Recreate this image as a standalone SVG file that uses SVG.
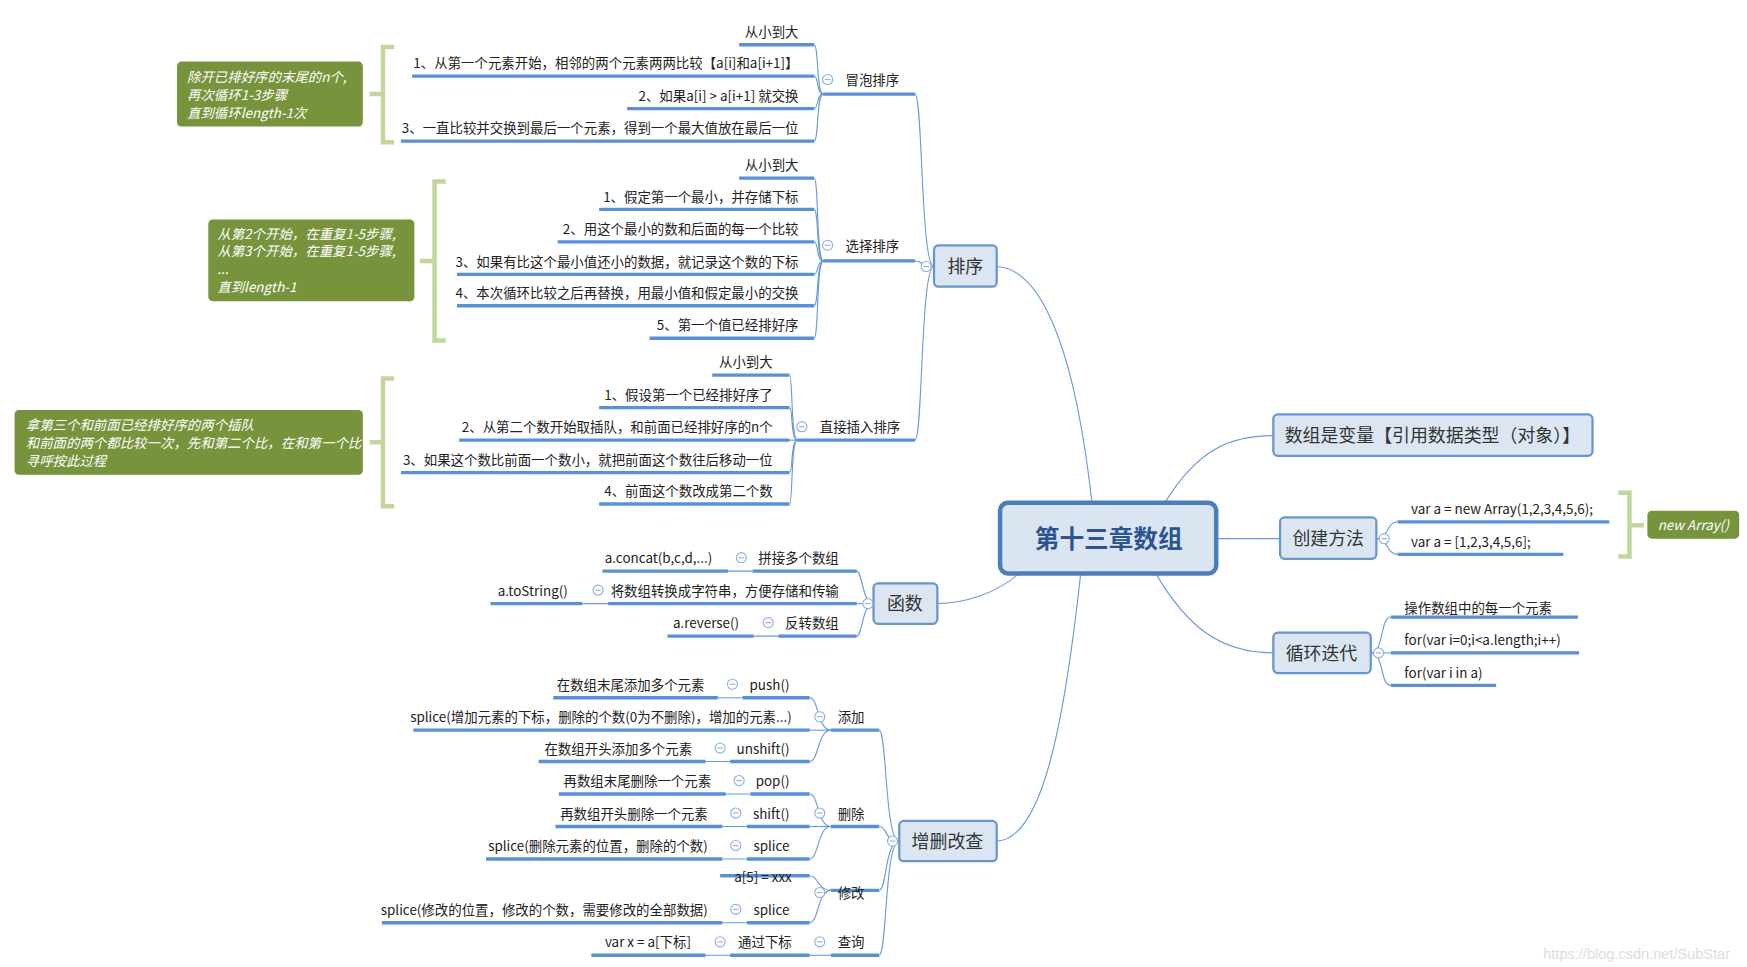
<svg xmlns="http://www.w3.org/2000/svg" width="1747" height="967" viewBox="0 0 1747 967">
<style>
text{font-family:"Microsoft YaHei","Noto Sans CJK SC","Liberation Sans",sans-serif;fill:#222;font-size:12px}
.r{text-anchor:end}
.c{text-anchor:middle}
.ul{stroke:#5b8fd6;stroke-width:3;fill:none}
.cn{stroke:#6a9ad8;stroke-width:1;fill:none}
.nd{fill:#dce6f2;stroke:#6a94cc;stroke-width:2}
.nt{font-size:16px;fill:#333;text-anchor:middle}
.gb{fill:#77933c}
.gt{fill:#fff;font-style:italic;font-size:12px}
.br{stroke:#c3d69b;stroke-width:4;fill:none}
.cc{fill:#fff;stroke:#8fb0dc;stroke-width:1}
</style>
<defs>
<g id="col"><circle class="cc" r="4.5"/><line x1="-2.5" x2="2.5" y1="0" y2="0" stroke="#8fb0dc"/></g>
</defs>
<rect width="1747" height="967" fill="#fff"/>
<g transform="scale(1.1199)">
<g id="connectors">
<path class="cn" d="M975 449 C962 330 935 240 890 238"/>
<path class="cn" d="M910 512 C890 530 860 539 837 539"/>
<path class="cn" d="M965 512 C950 650 930 750 890 751"/>
<path class="cn" d="M1040 449 C1070 400 1100 389 1137 389"/>
<path class="cn" d="M1086 481 L1143 481"/>
<path class="cn" d="M1032 512 C1060 560 1090 583 1137 583"/>
<!-- sort fan -->
<path class="cn" d="M834 238 C822 238 824 84 817 84"/>
<path class="cn" d="M834 238 C822 238 824 233 817 233"/>
<path class="cn" d="M834 238 C822 238 824 393 817 393"/>
<!-- bubble -->
<path class="cn" d="M735 84 C729 84 731 40 727 40"/>
<path class="cn" d="M735 84 C729 84 731 68 727 68"/>
<path class="cn" d="M735 84 C729 84 731 97 727 97"/>
<path class="cn" d="M735 84 C729 84 731 126 727 126"/>
<!-- select -->
<path class="cn" d="M735 233 C729 233 731 159 727 159"/>
<path class="cn" d="M735 233 C729 233 731 187 727 187"/>
<path class="cn" d="M735 233 C729 233 731 216 727 216"/>
<path class="cn" d="M735 233 C729 233 731 245 727 245"/>
<path class="cn" d="M735 233 C729 233 731 273 727 273"/>
<path class="cn" d="M735 233 C729 233 731 302 727 302"/>
<!-- insert -->
<path class="cn" d="M712 393 C706 393 708 335 705 335"/>
<path class="cn" d="M712 393 C706 393 708 364 705 364"/>
<path class="cn" d="M712 393 C706 393 708 393 705 393"/>
<path class="cn" d="M712 393 C706 393 708 422 705 422"/>
<path class="cn" d="M712 393 C706 393 708 450 705 450"/>
<!-- functions -->
<path class="cn" d="M780 539 C770 539 770 510 765 510"/>
<path class="cn" d="M780 539 L765 539"/>
<path class="cn" d="M780 539 C770 539 770 568 765 568"/>
<path class="cn" d="M650 510 L672 510 M520 539 L543 539 M673 568 L695 568"/>
<!-- crud -->
<path class="cn" d="M803 751 C790 751 792 652 785 652"/>
<path class="cn" d="M803 751 C790 751 792 738 785 738"/>
<path class="cn" d="M803 751 C790 751 792 795 785 795"/>
<path class="cn" d="M803 751 C790 751 792 853 785 853"/>
<path class="cn" d="M742 652 C730 652 731 623 723 623"/>
<path class="cn" d="M742 652 L723 652"/>
<path class="cn" d="M742 652 C730 652 731 680 723 680"/>
<path class="cn" d="M742 738 C730 738 731 709 723 709"/>
<path class="cn" d="M742 738 L723 738"/>
<path class="cn" d="M742 738 C730 738 731 767 723 767"/>
<path class="cn" d="M742 795 C730 795 731 782 723 782"/>
<path class="cn" d="M742 795 C730 795 731 824 723 824"/>
<path class="cn" d="M742 853 L723 853"/>
<path class="cn" d="M641 623 L663 623 M630 680 L652 680 M648 709 L670 709 M645 738 L667 738 M645 767 L667 767 M645 824 L667 824 M630 853 L652 853"/>
<!-- right -->
<path class="cn" d="M1229 481 C1240 481 1238 466 1248 466"/>
<path class="cn" d="M1229 481 C1240 481 1238 495 1248 495"/>
<path class="cn" d="M1224 583 C1236 583 1232 551 1242 551"/>
<path class="cn" d="M1224 583 L1242 583"/>
<path class="cn" d="M1224 583 C1236 583 1232 612 1242 612"/>
</g>

<g id="center"><rect x="893" y="449" width="193" height="63" rx="7" fill="#dbe5f1" stroke="#4a7ebb" stroke-width="4"/><text x="990" y="489" class="c" style="font-size:22px;font-weight:bold;fill:#2c5590">第十三章数组</text></g>
<g id="n-sort"><rect class="nd" x="834" y="219" width="56" height="37" rx="4"/><text class="nt" x="862" y="244">排序</text><use href="#col" x="827" y="238"/></g>
<g id="n-func"><rect class="nd" x="780" y="521" width="57" height="36" rx="4"/><text class="nt" x="808" y="545">函数</text><use href="#col" x="775" y="539"/></g>
<g id="n-crud"><rect class="nd" x="803" y="733" width="87" height="36" rx="4"/><text class="nt" x="846" y="757">增删改查</text><use href="#col" x="797" y="751"/></g>
<g id="n-var"><rect class="nd" x="1137" y="370" width="285" height="37" rx="4"/><text class="nt" x="1279" y="395">数组是变量【引用数据类型（对象）】</text></g>
<g id="n-create"><rect class="nd" x="1143" y="462" width="86" height="37" rx="4"/><text class="nt" x="1186" y="487">创建方法</text><use href="#col" x="1236" y="481"/></g>
<g id="n-loop"><rect class="nd" x="1137" y="565" width="87" height="36" rx="4"/><text class="nt" x="1180" y="589">循环迭代</text><use href="#col" x="1231" y="583"/></g>

<g id="bubble">
<path class="ul" d="M735 84 H817"/><text x="755" y="76">冒泡排序</text><use href="#col" x="739" y="71"/>
<path class="ul" d="M660 40 H727"/><text class="r" x="713" y="33">从小到大</text>
<path class="ul" d="M368 68 H727"/><text class="r" x="713" y="61">1、从第一个元素开始，相邻的两个元素两两比较【a[i]和a[i+1]】</text>
<path class="ul" d="M560 97 H727"/><text class="r" x="713" y="90">2、如果a[i] &gt; a[i+1] 就交换</text>
<path class="ul" d="M358 126 H727"/><text class="r" x="713" y="119">3、一直比较并交换到最后一个元素，得到一个最大值放在最后一位</text>
<path class="br" d="M352 42 H342 V127 H352 M342 84 H330"/>
<rect class="gb" x="158" y="55" width="166" height="58" rx="4"/>
<text class="gt" x="167" y="73">除开已排好序的末尾的n个,</text><text class="gt" x="167" y="89">再次循环1-3步骤</text><text class="gt" x="167" y="105">直到循环length-1次</text>
</g>

<g id="select">
<path class="ul" d="M735 233 H817"/><text x="755" y="224">选择排序</text><use href="#col" x="739" y="219"/>
<path class="ul" d="M660 159 H727"/><text class="r" x="713" y="152">从小到大</text>
<path class="ul" d="M535 187 H727"/><text class="r" x="713" y="180">1、假定第一个最小，并存储下标</text>
<path class="ul" d="M498 216 H727"/><text class="r" x="713" y="209">2、用这个最小的数和后面的每一个比较</text>
<path class="ul" d="M408 245 H727"/><text class="r" x="713" y="238">3、如果有比这个最小值还小的数据，就记录这个数的下标</text>
<path class="ul" d="M408 273 H727"/><text class="r" x="713" y="266">4、本次循环比较之后再替换，用最小值和假定最小的交换</text>
<path class="ul" d="M580 302 H727"/><text class="r" x="713" y="295">5、第一个值已经排好序</text>
<path class="br" d="M398 162 H388 V304 H398 M388 233 H375"/>
<rect class="gb" x="186" y="196" width="184" height="73" rx="4"/>
<text class="gt" x="194" y="213">从第2个开始，在重复1-5步骤,</text><text class="gt" x="194" y="229">从第3个开始，在重复1-5步骤,</text><text class="gt" x="194" y="245">...</text><text class="gt" x="194" y="261">直到length-1</text>
</g>

<g id="insert">
<path class="ul" d="M712 393 H817"/><text x="732" y="386">直接插入排序</text><use href="#col" x="716" y="381"/>
<path class="ul" d="M636 335 H705"/><text class="r" x="690" y="328">从小到大</text>
<path class="ul" d="M535 364 H705"/><text class="r" x="690" y="357">1、假设第一个已经排好序了</text>
<path class="ul" d="M410 393 H705"/><text class="r" x="690" y="386">2、从第二个数开始取插队，和前面已经排好序的n个</text>
<path class="ul" d="M358 422 H705"/><text class="r" x="690" y="415">3、如果这个数比前面一个数小，就把前面这个数往后移动一位</text>
<path class="ul" d="M535 450 H705"/><text class="r" x="690" y="443">4、前面这个数改成第二个数</text>
<path class="br" d="M352 338 H342 V452 H352 M342 395 H330"/>
<rect class="gb" x="13" y="366" width="311" height="58" rx="4"/>
<text class="gt" x="23" y="384">拿第三个和前面已经排好序的两个插队</text><text class="gt" x="23" y="400">和前面的两个都比较一次，先和第二个比，在和第一个比</text><text class="gt" x="23" y="416">寻呼按此过程</text>
</g>

<g id="funcs">
<path class="ul" d="M672 510 H765"/><text class="r" x="749" y="503">拼接多个数组</text><use href="#col" x="662" y="498"/>
<path class="ul" d="M538 510 H650"/><text class="r" x="636" y="503">a.concat(b,c,d,...)</text>
<path class="ul" d="M543 539 H765"/><text class="r" x="749" y="532">将数组转换成字符串，方便存储和传输</text><use href="#col" x="534" y="527"/>
<path class="ul" d="M438 539 H520"/><text class="r" x="507" y="532">a.toString()</text>
<path class="ul" d="M695 568 H765"/><text class="r" x="749" y="561">反转数组</text><use href="#col" x="686" y="556"/>
<path class="ul" d="M596 568 H673"/><text class="r" x="660" y="561">a.reverse()</text>
</g>

<g id="crud">
<path class="ul" d="M742 652 H785"/><text x="748" y="645">添加</text><use href="#col" x="732" y="640"/>
<path class="ul" d="M663 623 H723"/><text class="r" x="705" y="616">push()</text><use href="#col" x="654" y="611"/>
<path class="ul" d="M494 623 H641"/><text class="r" x="629" y="616">在数组末尾添加多个元素</text>
<path class="ul" d="M369 652 H723"/><text class="r" x="707" y="645">splice(增加元素的下标，删除的个数(0为不删除)，增加的元素...)</text>
<path class="ul" d="M652 680 H723"/><text class="r" x="705" y="673">unshift()</text><use href="#col" x="643" y="668"/>
<path class="ul" d="M481 680 H630"/><text class="r" x="618" y="673">在数组开头添加多个元素</text>
<path class="ul" d="M742 738 H785"/><text x="748" y="731">删除</text><use href="#col" x="732" y="726"/>
<path class="ul" d="M670 709 H723"/><text class="r" x="705" y="702">pop()</text><use href="#col" x="660" y="697"/>
<path class="ul" d="M499 709 H648"/><text class="r" x="635" y="702">再数组末尾删除一个元素</text>
<path class="ul" d="M667 738 H723"/><text class="r" x="705" y="731">shift()</text><use href="#col" x="657" y="726"/>
<path class="ul" d="M496 738 H645"/><text class="r" x="632" y="731">再数组开头删除一个元素</text>
<path class="ul" d="M667 767 H723"/><text class="r" x="705" y="760">splice</text><use href="#col" x="657" y="755"/>
<path class="ul" d="M434 767 H645"/><text class="r" x="632" y="760">splice(删除元素的位置，删除的个数)</text>
<path class="ul" d="M742 795 H785"/><text x="748" y="802">修改</text><use href="#col" x="732" y="797"/>
<path class="ul" d="M643 782 H723"/><text class="r" x="707" y="788">a[5] = xxx</text>
<path class="ul" d="M667 824 H723"/><text class="r" x="705" y="817">splice</text><use href="#col" x="657" y="812"/>
<path class="ul" d="M341 824 H645"/><text class="r" x="632" y="817">splice(修改的位置，修改的个数，需要修改的全部数据)</text>
<path class="ul" d="M742 853 H785"/><text x="748" y="846">查询</text><use href="#col" x="732" y="841"/>
<path class="ul" d="M652 853 H723"/><text class="r" x="707" y="846">通过下标</text><use href="#col" x="643" y="841"/>
<path class="ul" d="M528 853 H630"/><text class="r" x="617" y="846">var x = a[下标]</text>
</g>

<g id="create">
<path class="ul" d="M1248 466 H1437"/><text x="1260" y="459">var a = new Array(1,2,3,4,5,6);</text>
<path class="ul" d="M1248 495 H1396"/><text x="1260" y="488">var a = [1,2,3,4,5,6];</text>
<path class="br" d="M1445 440 H1455 V497 H1445 M1455 469 H1468"/>
<rect class="gb" x="1471" y="456" width="82" height="25" rx="4"/><text class="gt" x="1512" y="473" text-anchor="middle">new Array()</text>
</g>
<g id="loop">
<path class="ul" d="M1242 551 H1409"/><text x="1254" y="547">操作数组中的每一个元素</text>
<path class="ul" d="M1242 583 H1410"/><text x="1254" y="576">for(var i=0;i&lt;a.length;i++)</text>
<path class="ul" d="M1242 612 H1336"/><text x="1254" y="605">for(var i in a)</text>
</g>
<text x="1378" y="856" style="fill:#ddd;font-size:13px;font-family:'Liberation Sans',sans-serif">https://blog.csdn.net/SubStar</text>
</g>
</svg>
